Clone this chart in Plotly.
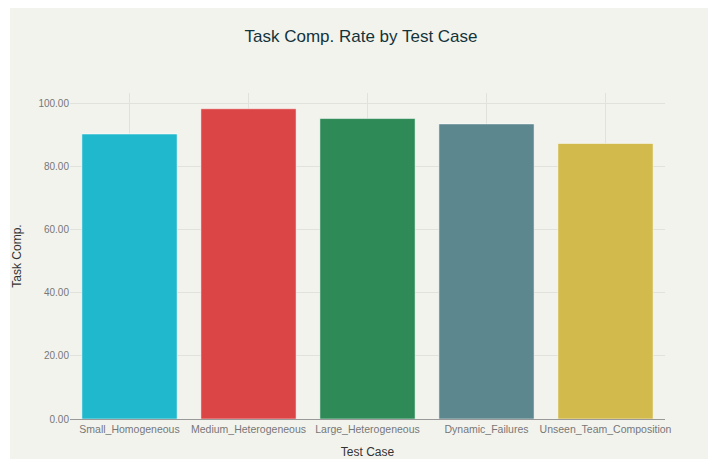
import plotly.graph_objects as go

categories = ["Small_Homogeneous", "Medium_Heterogeneous", "Large_Heterogeneous",
              "Dynamic_Failures", "Unseen_Team_Composition"]
values = [90.3, 98.3, 95.2, 93.5, 87.3]
colors = ["#1FB8CD", "#DB4545", "#2E8B57", "#5D878F", "#D2BA4C"]
y_ticks = [0, 20, 40, 60, 80, 100]

W, H = 708, 459
ml, mr, mt, mb = 70, 43, 93, 40
pw, ph = W - ml - mr, H - mt - mb

fig = go.Figure(go.Bar(
    x=categories, y=values,
    marker=dict(color=colors, line=dict(color="rgba(255,255,255,0.5)", width=1)),
    hoverinfo="x+y",
))

# paper background offset (reference has a thin white border top/left)
x0 = (10 - ml) / pw
x1 = (W + 5 - ml) / pw
y1 = 1 + (mt - 8) / ph
y0 = -(mb + 5) / ph
fig.add_shape(type="rect", xref="paper", yref="paper", x0=x0, x1=x1, y0=y0, y1=y1,
              fillcolor="#F3F3EE", line=dict(width=0), layer="below")

small_font = "Liberation Sans Narrow, Arial Narrow, Liberation Sans, Arial, sans-serif"

fig.update_layout(
    width=W, height=H,
    margin=dict(l=ml, r=mr, t=mt, b=mb, pad=0, autoexpand=False),
    paper_bgcolor="white",
    plot_bgcolor="rgba(0,0,0,0)",
    font=dict(family="Liberation Sans, Arial, sans-serif", color="#333333"),
    title=dict(text="Task Comp. Rate by Test Case", x=361 / W, xanchor="center",
               y=1 - 36 / H, yanchor="middle",
               font=dict(size=17, color="#13343B")),
    bargap=0.2,
    showlegend=False,
    xaxis=dict(
        automargin=False,
        title=dict(text="Test Case", font=dict(size=12, color="#333333", family=small_font), standoff=16),
        tickfont=dict(size=10.5, color="#777777", family=small_font),
        showgrid=True, gridcolor="#E2E2DD", gridwidth=1,
        showline=True, linecolor="#999999", linewidth=1,
        ticks="", tickangle=0,
    ),
    yaxis=dict(
        automargin=False,
        title=dict(text="Task Comp.", font=dict(size=12, color="#333333", family=small_font), standoff=14),
        tickfont=dict(size=10, color="#777777"),
        tickvals=y_ticks, tickformat=".2f",
        range=[0, 103.3],
        showgrid=True, gridcolor="#E2E2DD", gridwidth=1,
        zeroline=False, showline=False, ticks="",
    ),
)

fig.write_html("out.html")
